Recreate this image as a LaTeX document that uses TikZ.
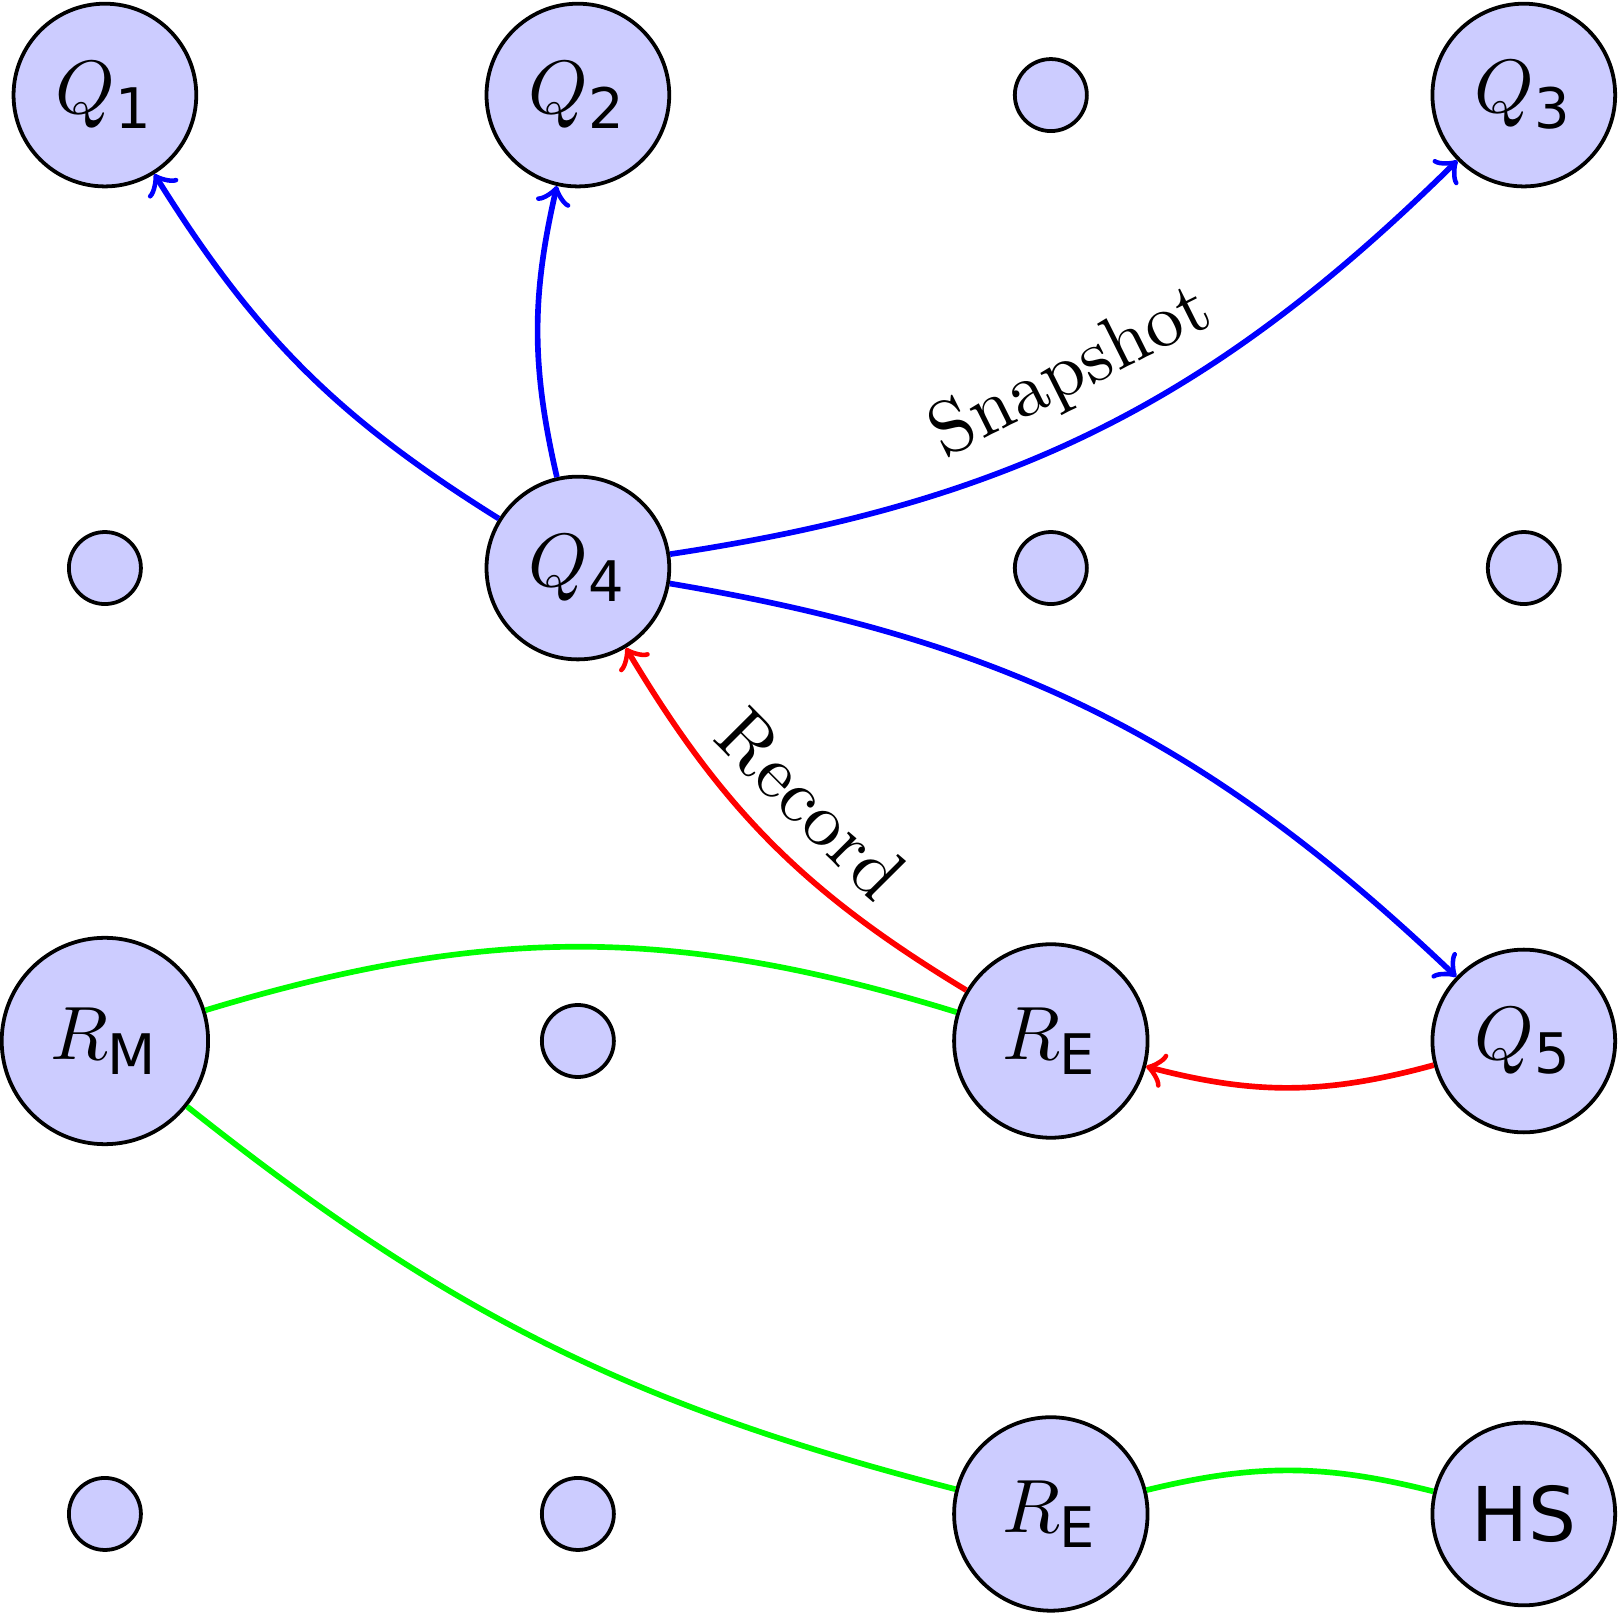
\documentclass[tikz,border=0pt]{standalone}
\usepackage{fontspec}
\setsansfont{DejaVu Sans}
\DeclareMathSizes{10}{10}{7.4}{5}
\usetikzlibrary{arrows}
\definecolor{node-blue}{rgb}{0.8,0.8,1}
\newdimen\qgridsize
\setlength{\qgridsize}{2.2cm}
\tikzstyle{qbigstyle}=[shape=circle,draw,fill=node-blue,line width=0.5pt,inner sep=0pt,minimum size=0.85cm]
\tikzstyle{qdotstyle}=[shape=circle,draw,fill=node-blue,line width=0.5pt,inner sep=0pt,minimum size=0.335cm]
\tikzstyle{snapstyle}=[draw=blue,line width=0.75pt,->]
\tikzstyle{recstyle}=[draw=red,line width=0.75pt,->]
\tikzstyle{linkstyle}=[draw=green,line width=0.75pt]
\newcommand{\qnode}[5]{ \draw (#2 \qgridsize,-#3 \qgridsize) node [style=#5] (#1) {#4}; }
\newcommand{\qdot}[3]{ \draw (#2 \qgridsize,-#3 \qgridsize) node [style=qdotstyle] (#1) {}; }

\begin{document}
\begin{tikzpicture}
\useasboundingbox (-0.488,-7.084) rectangle (7.037,0.442);
\qnode{q1}{0}{0}{$Q_{\mathsf{1}}$}{qbigstyle} %
\qnode{q2}{1}{0}{$Q_{\mathsf{2}}$}{qbigstyle} %
\qdot{d20}{2}{0} %
\qnode{q3}{3}{0}{$Q_{\mathsf{3}}$}{qbigstyle} %
\qdot{d01}{0}{1} %
\qnode{q4}{1}{1}{$Q_{\mathsf{4}}$}{qbigstyle} %
\qdot{d21}{2}{1} %
\qdot{d31}{3}{1} %
\qnode{rm}{0}{2}{$R_{\mathsf{M}}$}{{qbigstyle,minimum size=0.96cm}} %
\qdot{d12}{1}{2} %
\qnode{reup}{2}{2}{$R_{\mathsf{E}}$}{{qbigstyle,minimum size=0.9cm}} %
\qnode{q5}{3}{2}{$Q_{\mathsf{5}}$}{qbigstyle} %
\qdot{d03}{0}{3} %
\qdot{d13}{1}{3} %
\qnode{relow}{2}{3}{$R_{\mathsf{E}}$}{{qbigstyle,minimum size=0.9cm}} %
\qnode{hs}{3}{3}{\textsf{HS}}{qbigstyle} %
\draw[snapstyle] (q4) to[bend left=13] (q1); %
\draw[snapstyle] (q4) to[bend left=13] (q2); %
\draw[snapstyle] (q4) to[bend right=18] node[above,sloped] {Snapshot} (q3); %
\draw[snapstyle] (q4) to[bend left=17] (q5); %
\draw[recstyle] (reup) to[bend left=14] node[above,sloped] {Record} (q4); %
\draw[recstyle] (q5) to[bend left=15] (reup); %
\draw[linkstyle] (rm) to[bend left=17] (reup); %
\draw[linkstyle] (rm) to[bend right=12] (relow); %
\draw[linkstyle] (relow) to[bend left=14] (hs); %
\end{tikzpicture}
\end{document}
